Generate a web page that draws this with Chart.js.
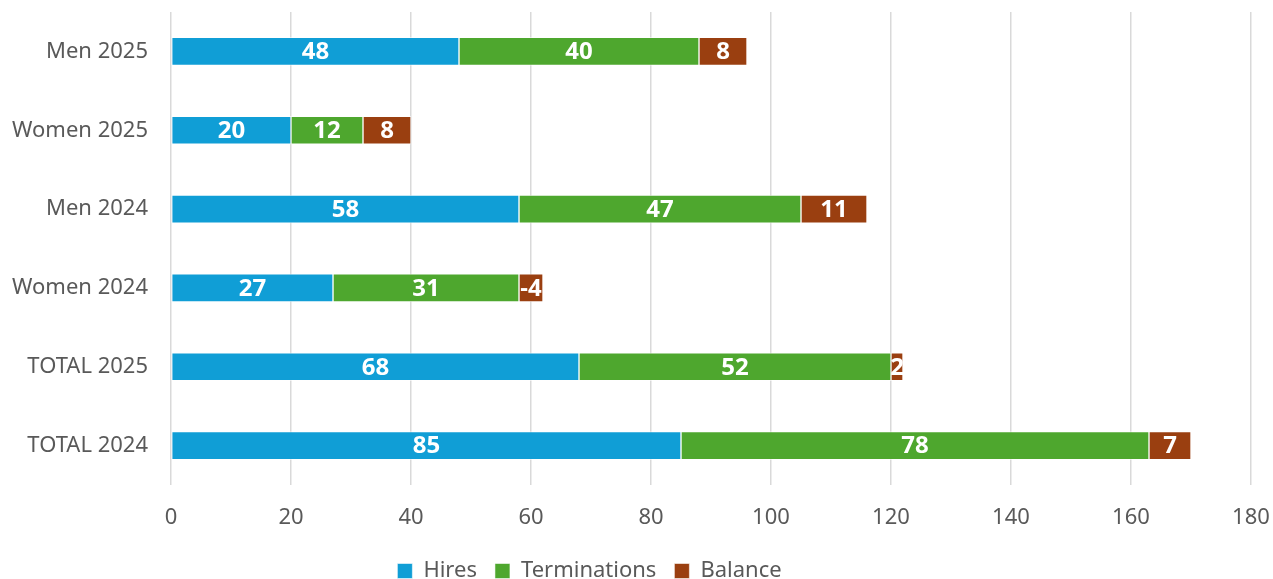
<!DOCTYPE html>
<html>
<head>
<meta charset="utf-8">
<script src="https://cdn.jsdelivr.net/npm/chart.js@4.4.1/dist/chart.umd.min.js"></script>
<style>
  html, body { margin: 0; padding: 0; background: #fff; }
  #wrap { width: 1273px; height: 579px; }
</style>
</head>
<body>
<div id="wrap"><canvas id="hrChart"></canvas></div>
<script>
const categories = ["Men 2025", "Women 2025", "Men 2024", "Women 2024", "TOTAL 2025", "TOTAL 2024"];
const hires = [48, 20, 58, 27, 68, 85];
const terminations = [40, 12, 47, 31, 52, 78];
const balance = [8, 8, 11, -4, 2, 7];
const xTicks = [0, 20, 40, 60, 80, 100, 120, 140, 160, 180];

const labelColor = "#595959";
const fontFamily = "'Noto Sans', 'Open Sans', sans-serif";

// draws the value in the middle of each bar piece
const barLabels = {
  id: "barLabels",
  beforeLayout(chart) {
    // pin the legend height so it sits near the bottom edge
    const lg = chart.legend;
    if (lg && !lg._pinned) {
      const fit = lg.fit.bind(lg);
      lg.fit = function () { fit(); this.height = 37; };
      lg._pinned = true;
    }
  },
  afterLayout(chart) {
    // legend is centred a bit left of the canvas middle
    const lg = chart.legend;
    if (lg) { lg.left = 0; lg.right = 1179; lg.width = 1179; }
  },
  afterDatasetsDraw(chart) {
    const ctx = chart.ctx;
    ctx.save();
    ctx.font = "bold 24px " + fontFamily;
    ctx.fillStyle = "#ffffff";
    ctx.textAlign = "center";
    ctx.textBaseline = "middle";
    chart.data.datasets.forEach((ds, i) => {
      const meta = chart.getDatasetMeta(i);
      meta.data.forEach((bar, j) => {
        const cx = (bar.x + bar.base) / 2;
        ctx.fillText(String(ds.rawValues[j]), cx, bar.y + 1);
      });
    });
    ctx.restore();
  }
};

new Chart(document.getElementById("hrChart"), {
  type: "bar",
  data: {
    labels: categories,
    datasets: [
      { label: "Hires", data: hires, rawValues: hires, backgroundColor: "#109ed6" },
      { label: "Terminations", data: terminations, rawValues: terminations, backgroundColor: "#4ea72e" },
      { label: "Balance", data: balance.map(v => Math.abs(v)), rawValues: balance, backgroundColor: "#9a3f10" }
    ].map(d => Object.assign(d, {
      borderColor: "rgba(255,255,255,0.55)",
      borderWidth: 1,
      borderSkipped: false,
      barThickness: 28
    }))
  },
  options: {
    indexAxis: "y",
    responsive: true,
    maintainAspectRatio: false,
    animation: false,
    layout: { padding: { left: 0, right: 22, top: 12, bottom: 0 } },
    plugins: {
      legend: {
        position: "bottom",
        labels: {
          color: labelColor,
          font: { family: fontFamily, size: 22 },
          boxWidth: 15,
          boxHeight: 15,
          padding: 18
        }
      },
      tooltip: { enabled: false }
    },
    scales: {
      x: {
        stacked: true,
        min: 0,
        max: 180,
        afterBuildTicks: s => { s.ticks = xTicks.map(v => ({ value: v })); },
        afterFit: s => { s.height = 57; s.paddingLeft = 0; s.paddingRight = 0; },
        grid: { color: "#d9d9d9", lineWidth: 1.5, drawTicks: false },
        border: { display: false },
        ticks: { color: labelColor, font: { family: fontFamily, size: 22 }, padding: 20 }
      },
      y: {
        stacked: true,
        afterFit: s => { s.width = 171; s.paddingTop = 0; s.paddingBottom = 0; },
        grid: { display: false, drawTicks: false },
        border: { display: false },
        ticks: { color: labelColor, font: { family: fontFamily, size: 22 }, padding: 23 }
      }
    }
  },
  plugins: [barLabels]
});
</script>
</body>
</html>
